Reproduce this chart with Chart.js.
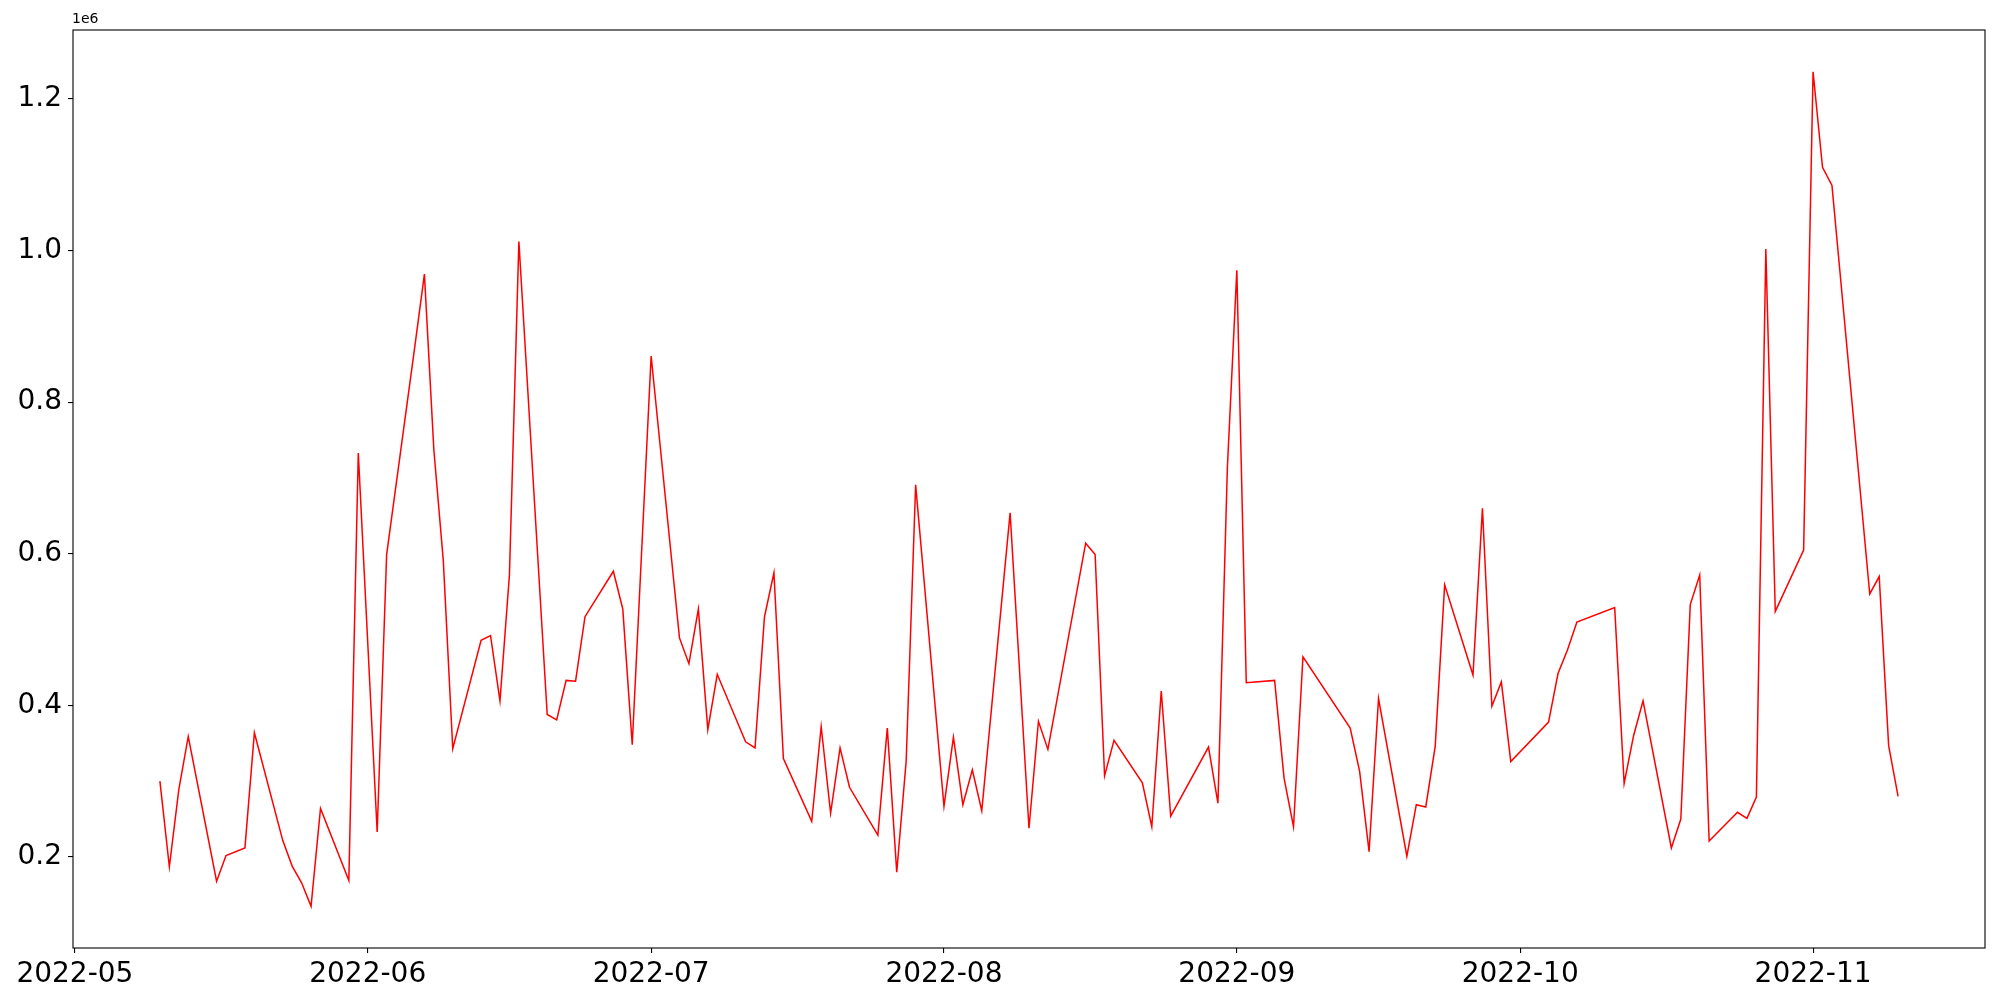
<!DOCTYPE html>
<html>
<head>
<meta charset="utf-8">
<script src="https://cdn.jsdelivr.net/npm/chart.js@4.4.1/dist/chart.umd.min.js"></script>
<style>
  body { margin: 0; background: #fff; }
  #wrap { width: 2000px; height: 1000px; }
</style>
</head>
<body>
<div id="wrap"><canvas id="chart" width="2000" height="1000"></canvas></div>
<script>
// daily values (weekdays, some days missing)
const dates = [
  "2022-05-10", "2022-05-11", "2022-05-12", "2022-05-13", "2022-05-16", "2022-05-17", "2022-05-19", "2022-05-20",
  "2022-05-23", "2022-05-24", "2022-05-25", "2022-05-26", "2022-05-27", "2022-05-30", "2022-05-31",
  "2022-06-02", "2022-06-03", "2022-06-06", "2022-06-07", "2022-06-08", "2022-06-09", "2022-06-10",
  "2022-06-13", "2022-06-14", "2022-06-15", "2022-06-16", "2022-06-17", "2022-06-20", "2022-06-21",
  "2022-06-22", "2022-06-23", "2022-06-24", "2022-06-27", "2022-06-28", "2022-06-29", "2022-07-01",
  "2022-07-04", "2022-07-05", "2022-07-06", "2022-07-07", "2022-07-08", "2022-07-11", "2022-07-12",
  "2022-07-13", "2022-07-14", "2022-07-15", "2022-07-18", "2022-07-19", "2022-07-20", "2022-07-21",
  "2022-07-22", "2022-07-25", "2022-07-26", "2022-07-27", "2022-07-28", "2022-07-29", "2022-08-01",
  "2022-08-02", "2022-08-03", "2022-08-04", "2022-08-05", "2022-08-08", "2022-08-10", "2022-08-11",
  "2022-08-12", "2022-08-16", "2022-08-17", "2022-08-18", "2022-08-19", "2022-08-22", "2022-08-23",
  "2022-08-24", "2022-08-25", "2022-08-29", "2022-08-30", "2022-08-31", "2022-09-01", "2022-09-02",
  "2022-09-05", "2022-09-06", "2022-09-07", "2022-09-08", "2022-09-13", "2022-09-14", "2022-09-15",
  "2022-09-16", "2022-09-19", "2022-09-20", "2022-09-21", "2022-09-22", "2022-09-23", "2022-09-26",
  "2022-09-27", "2022-09-28", "2022-09-29", "2022-09-30", "2022-10-04", "2022-10-05", "2022-10-06",
  "2022-10-07", "2022-10-11", "2022-10-12", "2022-10-13", "2022-10-14", "2022-10-17", "2022-10-18",
  "2022-10-19", "2022-10-20", "2022-10-21", "2022-10-24", "2022-10-25", "2022-10-26", "2022-10-27",
  "2022-10-28", "2022-10-31", "2022-11-01", "2022-11-02", "2022-11-03", "2022-11-07", "2022-11-08",
  "2022-11-09", "2022-11-10"
];

const values = [
  300000, 187000, 289000, 359000, 168000, 202000, 212000, 364000,
  222000, 188000, 166000, 135000, 264000, 169000, 733000,
  233000, 599000, 875000, 969000, 737000, 591000, 343000,
  486000, 492000, 406000, 572000, 1012000, 388000, 381000,
  433000, 432000, 517000, 577000, 527000, 348000, 861000,
  489000, 455000, 527000, 368000, 441000, 352000, 344000,
  517000, 575000, 330000, 247000, 372000, 258000, 344000,
  292000, 229000, 370000, 180000, 327000, 691000, 267000,
  358000, 269000, 315000, 261000, 654000, 238000, 379000,
  342000, 614000, 599000, 307000, 354000, 298000, 240000,
  419000, 254000, 345000, 271000, 714000, 974000, 430000,
  433000, 304000, 240000, 464000, 370000, 313000, 207000,
  409000, 201000, 269000, 266000, 346000, 559000, 440000,
  660000, 399000, 431000, 326000, 378000, 442000, 473000,
  510000, 529000, 297000, 360000, 406000, 212000, 250000,
  533000, 572000, 221000, 259000, 251000, 279000, 1002000,
  524000, 605000, 1236000, 1110000, 1086000, 547000, 570000,
  347000, 280000
];

// axis ticks
const monthTicks = ["2022-05-01", "2022-06-01", "2022-07-01", "2022-08-01", "2022-09-01", "2022-10-01", "2022-11-01"];
const yTicks = [200000, 400000, 600000, 800000, 1000000, 1200000];

const xs = dates.map(d => Date.parse(d));
const points = xs.map((x, i) => ({ x: x, y: values[i] }));

// matplotlib style 5% margins
const xPad = (xs[xs.length - 1] - xs[0]) * 0.05;
const yMinV = Math.min(...values), yMaxV = Math.max(...values);
const yPad = (yMaxV - yMinV) * 0.05;

const font = { family: "DejaVu Sans", size: 28 };

const framePlugin = {
  id: "frame",
  afterDraw(chart) {
    const a = chart.chartArea;
    const ctx = chart.ctx;
    ctx.save();
    ctx.strokeStyle = "#000";
    ctx.lineWidth = 1.1;
    ctx.strokeRect(a.left, a.top, a.right - a.left, a.bottom - a.top);
    // offset text
    ctx.fillStyle = "#000";
    ctx.font = "14px 'DejaVu Sans'";
    ctx.textAlign = "left";
    ctx.textBaseline = "bottom";
    ctx.fillText("1e6", a.left - 1, a.top - 4);
    ctx.restore();
  }
};

const ctx = document.getElementById("chart").getContext("2d");
new Chart(ctx, {
  type: "line",
  data: {
    datasets: [{
      data: points,
      borderColor: "#ff0000",
      borderWidth: 1.5,
      pointRadius: 0,
      tension: 0,
      fill: false
    }]
  },
  options: {
    responsive: false,
    animation: false,
    layout: { padding: { top: 30, right: 15, left: 0, bottom: 0 } },
    plugins: {
      legend: { display: false },
      tooltip: { enabled: false }
    },
    scales: {
      x: {
        type: "linear",
        min: xs[0] - xPad,
        max: xs[xs.length - 1] + xPad,
        afterBuildTicks: scale => { scale.ticks = monthTicks.map(d => ({ value: Date.parse(d) })); },
        afterFit: scale => { scale.height = 52; },
        grid: { display: true, drawOnChartArea: false, drawTicks: true, tickLength: 5, color: "#000", lineWidth: 1.1 },
        border: { display: false },
        ticks: {
          autoSkip: false,
          maxRotation: 0,
          padding: 5,
          color: "#000",
          font: font,
          callback: v => {
            const d = new Date(v);
            return d.getUTCFullYear() + "-" + String(d.getUTCMonth() + 1).padStart(2, "0");
          }
        }
      },
      y: {
        type: "linear",
        min: yMinV - yPad,
        max: yMaxV + yPad,
        afterBuildTicks: scale => { scale.ticks = yTicks.map(v => ({ value: v })); },
        afterFit: scale => { scale.width = 73; },
        grid: { display: true, drawOnChartArea: false, drawTicks: true, tickLength: 5, color: "#000", lineWidth: 1.1 },
        border: { display: false },
        ticks: {
          padding: 6,
          color: "#000",
          font: font,
          callback: v => (v / 1e6).toFixed(1)
        }
      }
    }
  },
  plugins: [framePlugin]
});
</script>
</body>
</html>
